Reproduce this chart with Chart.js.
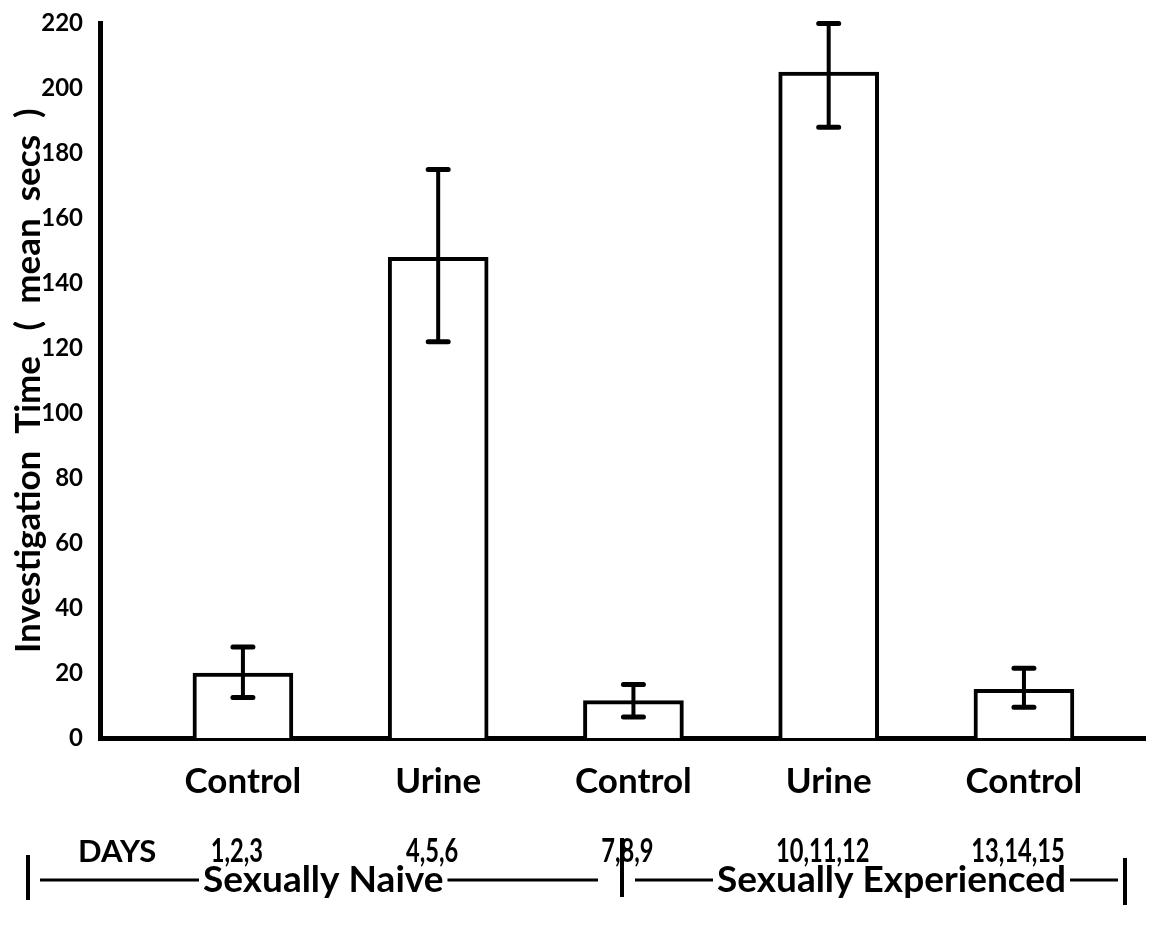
<!DOCTYPE html>
<html>
<head>
<meta charset="utf-8">
<script src="https://cdn.jsdelivr.net/npm/chart.js@4"></script>
<style>
  html, body { margin: 0; padding: 0; background: #fff; }
  #wrap { width: 1160px; height: 934px; position: relative; }
</style>
</head>
<body>
<div id="wrap"><canvas id="chart"></canvas></div>
<script>
// values
const categories = ['Control', 'Urine', 'Control', 'Urine', 'Control'];
const days = ['1,2,3', '4,5,6', '7,8,9', '10,11,12', '13,14,15'];
const meanSecs = [20, 148, 11.5, 205, 15];
const errLow = [12.5, 122, 6.5, 188, 9.5];
const errHigh = [28, 175, 16.5, 220, 21.5];
const groups = ['Sexually Naive', 'Sexually Experienced'];

const FONT = "Lato, 'DejaVu Sans', sans-serif";

// error bars, drawn from the y scale
const errorBars = {
    id: 'errorBars',
    afterDatasetsDraw(chart) {
        const ctx = chart.ctx;
        const y = chart.scales.y;
        const meta = chart.getDatasetMeta(0);
        ctx.save();
        ctx.strokeStyle = '#000';
        ctx.lineCap = 'round';
        meta.data.forEach((bar, i) => {
            const x = bar.x;
            const top = y.getPixelForValue(errHigh[i]);
            const bot = y.getPixelForValue(errLow[i]);
            ctx.lineWidth = 4;
            ctx.beginPath();
            ctx.moveTo(x, top);
            ctx.lineTo(x, bot);
            ctx.stroke();
            ctx.lineWidth = 5;
            ctx.beginPath();
            ctx.moveTo(x - 10, top);
            ctx.lineTo(x + 10, top);
            ctx.moveTo(x - 10, bot);
            ctx.lineTo(x + 10, bot);
            ctx.stroke();
        });
        ctx.restore();
    }
};

// DAYS row and the group brackets under the axis
const extras = {
    id: 'extras',
    afterDraw(chart) {
        const ctx = chart.ctx;
        const x = chart.scales.x;
        ctx.save();
        ctx.fillStyle = '#000';
        ctx.strokeStyle = '#000';
        ctx.textBaseline = 'middle';
        ctx.textAlign = 'left';
        ctx.font = 'bold 31px ' + FONT;
        ctx.fillText('DAYS', 78, 852);
        // the day numbers are set in a condensed face in the original
        ctx.font = 'bold 32px ' + FONT;
        ctx.textAlign = 'center';
        days.forEach((d, i) => {
            ctx.save();
            ctx.translate(x.getPixelForValue(i + 1) - 6, 852);
            ctx.scale(0.74, 1);
            ctx.fillText(d, 0, 0);
            ctx.restore();
        });

        const by = 880;
        ctx.textAlign = 'left';
        ctx.font = 'bold 37px ' + FONT;
        ctx.lineWidth = 4;
        [[28, 855, 900], [622, 838, 897], [1125, 858, 905]].forEach(v => {
            ctx.beginPath();
            ctx.moveTo(v[0], v[1]);
            ctx.lineTo(v[0], v[2]);
            ctx.stroke();
        });
        ctx.lineWidth = 3;
        const segs = [[40, 203, 598], [635, 717, 1118]];
        segs.forEach((s, i) => {
            const w = ctx.measureText(groups[i]).width;
            ctx.fillText(groups[i], s[1], by);
            ctx.beginPath();
            ctx.moveTo(s[0], by);
            ctx.lineTo(s[1] - 4, by);
            ctx.moveTo(s[1] + w + 4, by);
            ctx.lineTo(s[2], by);
            ctx.stroke();
        });
        ctx.restore();
    }
};

new Chart(document.getElementById('chart'), {
    type: 'bar',
    data: {
        datasets: [{
            data: meanSecs.map((v, i) => ({ x: i + 1, y: v })),
            backgroundColor: '#fff',
            borderColor: '#000',
            borderWidth: 4,
            barThickness: 100
        }]
    },
    options: {
        responsive: true,
        maintainAspectRatio: false,
        animation: false,
        layout: { padding: { top: 22, right: 15, left: 0, bottom: 0 } },
        plugins: {
            legend: { display: false },
            tooltip: { enabled: false }
        },
        scales: {
            x: {
                type: 'linear',
                offset: false,
                min: 0.268,
                max: 5.62,
                grid: { display: false },
                border: { display: true, color: '#000', width: 5 },
                afterBuildTicks: axis => {
                    axis.ticks = categories.map((c, i) => ({ value: i + 1 }));
                },
                afterFit: s => { s.height = 196; },
                ticks: {
                    autoSkip: false,
                    maxRotation: 0,
                    padding: 15,
                    color: '#000',
                    font: { family: FONT, size: 35, weight: 'bold' },
                    callback: (value, index) => categories[index]
                }
            },
            y: {
                min: 0,
                max: 220,
                grid: { display: false },
                border: { display: true, color: '#000', width: 5 },
                afterFit: s => { s.width = 100; },
                ticks: {
                    stepSize: 20,
                    padding: 9,
                    color: '#000',
                    font: { family: FONT, size: 24, weight: 'bold' }
                },
                title: {
                    display: true,
                    text: 'Investigation  Time   (  mean  secs  )',
                    color: '#000',
                    padding: { top: 8, bottom: 0 },
                    font: { family: FONT, size: 35, weight: 'bold' }
                }
            }
        }
    },
    plugins: [errorBars, extras]
});
</script>
</body>
</html>
